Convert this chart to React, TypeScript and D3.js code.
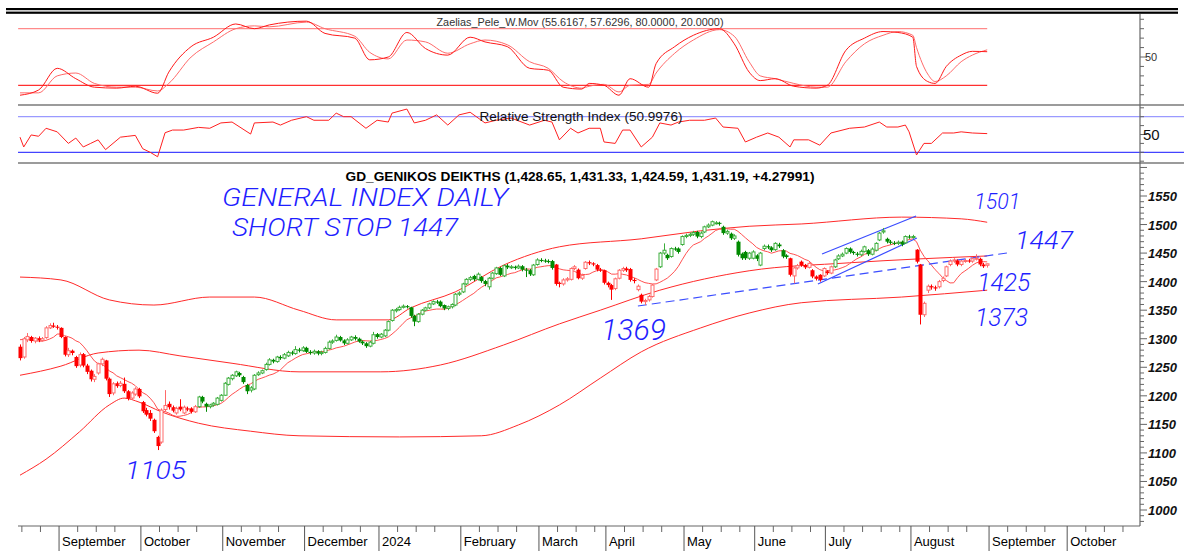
import React from "react";
import * as d3 from "d3";

// ---------- DATA ----------
const monthLabels = ["September","October","November","December","2024","February","March","April","May","June","July","August","September","October"];
const monthStarts = [11,33,55,77,97,119,140,158,179,198,217,240,261,282];
const priceTicks = [1000,1050,1100,1150,1200,1250,1300,1350,1400,1450,1500,1550];

const opens = [1286,1268,1298,1303,1296,1301,1297,1302,1319,1323,1321,1319,1303,1272,1279,1268,1254,1273,1253,1244,1229,1240,1256,1262,1230,1205,1222,1218,1221,1208,1196,1203,1212,1189,1175,1170,1158,1128,1119,1176,1186,1180,1170,1181,1170,1178,1178,1172,1181,1198,1186,1181,1184,1185,1192,1201,1220,1230,1235,1240,1233,1219,1210,1212,1237,1240,1246,1255,1263,1260,1268,1266,1270,1276,1274,1281,1279,1284,1277,1275,1278,1274,1276,1283,1294,1297,1303,1297,1292,1298,1303,1300,1295,1292,1287,1292,1308,1303,1305,1315,1332,1349,1351,1355,1357,1355,1340,1330,1343,1350,1354,1361,1365,1365,1359,1353,1356,1359,1378,1382,1396,1404,1410,1404,1408,1401,1391,1406,1414,1424,1410,1428,1425,1426,1424,1427,1421,1420,1412,1430,1438,1437,1436,1436,1430,1398,1396,1403,1404,1423,1421,1406,1423,1434,1432,1429,1421,1420,1398,1394,1388,1406,1420,1423,1422,1403,1386,1377,1365,1368,1374,1403,1426,1450,1447,1444,1458,1458,1465,1479,1481,1483,1487,1479,1487,1496,1499,1503,1503,1496,1485,1484,1476,1470,1449,1452,1441,1441,1446,1429,1458,1462,1460,1456,1465,1455,1446,1441,1410,1424,1435,1429,1425,1420,1409,1412,1410,1418,1415,1426,1440,1445,1450,1458,1452,1449,1447,1453,1455,1448,1455,1473,1487,1475,1470,1468,1467,1470,1468,1479,1478,1456,1430,1342,1385,1392,1390,1391,1402,1410,1430,1436,1437,1430,1436,1437,1436,1440,1440,1430,1428.65];
const highs = [1290,1303,1310,1305,1303,1304,1303,1322,1327,1328,1324,1320,1304,1284,1281,1270,1276,1275,1256,1246,1238,1258,1267,1263,1232,1224,1225,1226,1232,1210,1208,1215,1214,1191,1179,1175,1160,1130,1178,1210,1190,1183,1181,1194,1183,1181,1180,1184,1200,1200,1188,1186,1189,1198,1203,1224,1233,1238,1244,1242,1235,1221,1217,1238,1243,1246,1258,1266,1265,1270,1271,1275,1279,1279,1287,1284,1287,1286,1280,1281,1280,1279,1286,1297,1299,1307,1305,1299,1301,1305,1306,1302,1297,1294,1296,1312,1310,1310,1317,1332,1352,1354,1358,1360,1359,1356,1342,1345,1352,1356,1363,1367,1368,1367,1360,1358,1362,1380,1383,1398,1406,1410,1412,1416,1410,1403,1408,1417,1426,1426,1430,1431,1429,1428,1430,1429,1424,1422,1431,1441,1441,1440,1439,1438,1431,1400,1406,1408,1425,1429,1423,1414,1436,1437,1434,1431,1424,1421,1400,1396,1407,1422,1426,1426,1424,1406,1395,1379,1370,1377,1396,1424,1452,1467,1449,1460,1461,1460,1481,1484,1486,1489,1489,1488,1498,1502,1507,1506,1505,1498,1491,1486,1483,1472,1451,1454,1452,1455,1448,1452,1465,1465,1462,1469,1468,1457,1448,1442,1426,1431,1437,1431,1434,1422,1411,1413,1425,1420,1428,1440,1448,1451,1460,1460,1454,1452,1456,1463,1457,1460,1469,1487,1494,1477,1473,1471,1472,1472,1481,1482,1482,1457,1431,1365,1395,1395,1393,1403,1409,1428,1439,1441,1439,1438,1440,1440,1443,1448,1442,1433,1431.33];
const lows = [1262,1265,1294,1293,1292,1294,1295,1300,1317,1319,1316,1301,1269,1268,1271,1249,1250,1250,1238,1225,1224,1237,1252,1227,1198,1201,1214,1215,1205,1192,1193,1200,1196,1170,1164,1156,1135,1105,1116,1172,1176,1171,1167,1173,1168,1173,1169,1170,1179,1187,1172,1178,1181,1183,1190,1200,1218,1227,1233,1233,1221,1203,1206,1210,1235,1238,1244,1253,1257,1258,1263,1264,1268,1271,1272,1276,1277,1275,1272,1272,1271,1271,1274,1281,1291,1295,1295,1289,1290,1296,1297,1293,1289,1284,1285,1290,1300,1301,1303,1313,1330,1346,1349,1353,1353,1337,1322,1328,1341,1348,1352,1359,1361,1355,1350,1350,1353,1357,1375,1380,1394,1401,1401,1402,1398,1392,1386,1404,1412,1410,1408,1422,1422,1421,1422,1418,1408,1410,1410,1428,1434,1433,1432,1421,1393,1390,1393,1400,1402,1420,1404,1403,1421,1429,1427,1418,1417,1395,1390,1368,1385,1404,1417,1417,1400,1397,1383,1362,1359,1365,1372,1401,1424,1447,1438,1442,1454,1449,1463,1476,1478,1480,1476,1476,1485,1494,1497,1500,1498,1482,1482,1473,1473,1444,1438,1438,1438,1439,1436,1427,1455,1457,1452,1454,1459,1441,1440,1409,1397,1421,1426,1422,1423,1406,1402,1400,1408,1412,1413,1424,1438,1443,1448,1449,1447,1444,1445,1451,1445,1446,1453,1471,1484,1467,1465,1464,1464,1462,1466,1475,1475,1432,1325,1338,1380,1386,1384,1388,1399,1408,1427,1433,1427,1427,1433,1433,1433,1437,1427,1424,1424.59];
const closes = [1266,1300,1304,1296,1301,1297,1300,1319,1323,1321,1320,1303,1272,1279,1275,1252,1272,1253,1242,1229,1234,1256,1264,1230,1203,1221,1217,1222,1208,1195,1205,1212,1199,1173,1167,1160,1138,1112,1175,1183,1180,1174,1178,1176,1180,1176,1172,1181,1198,1190,1181,1184,1187,1196,1201,1222,1231,1236,1242,1236,1224,1208,1214,1236,1240,1244,1255,1263,1260,1268,1266,1272,1276,1274,1281,1279,1284,1277,1275,1278,1274,1276,1283,1294,1296,1303,1297,1292,1298,1303,1300,1295,1292,1287,1294,1307,1303,1308,1315,1330,1350,1351,1355,1357,1356,1340,1330,1343,1350,1354,1361,1365,1364,1357,1353,1356,1360,1378,1380,1396,1404,1407,1404,1413,1401,1396,1406,1415,1424,1412,1428,1425,1426,1424,1427,1421,1420,1413,1429,1438,1437,1436,1435,1424,1396,1396,1403,1405,1423,1426,1406,1411,1434,1432,1430,1421,1420,1398,1394,1386,1405,1420,1423,1420,1403,1401,1392,1365,1367,1374,1394,1422,1450,1455,1441,1458,1457,1452,1479,1481,1483,1486,1479,1485,1496,1499,1505,1503,1502,1485,1488,1476,1480,1447,1441,1441,1450,1452,1440,1450,1462,1460,1455,1467,1462,1444,1443,1412,1424,1428,1429,1425,1432,1409,1405,1403,1423,1415,1426,1438,1445,1448,1458,1452,1450,1447,1453,1461,1448,1457,1467,1485,1489,1470,1468,1467,1469,1465,1479,1478,1479,1435,1342,1362,1392,1390,1388,1400,1406,1426,1436,1438,1430,1436,1437,1436,1440,1441,1430,1426.91,1431.19];
const priorCloses = [1296,1302,1308,1311,1306,1301,1304,1299,1290];

const trendStarts = [0,48,144,172,207,219,241];
const trendUp = [false,true,false,true,false,true,false];

const upperDays = [0,11,24,36,51,63,75,85,99,105,117,130,145,167,183,196,210,237,253,260];
const upperVals = [1408,1403,1368,1359,1373,1373,1350,1333,1333,1354,1382,1429,1461,1475,1489,1497,1501,1513,1510,1504];
const midDays = [0,11,21,32,43,57,75,97,113,130,145,156,172,196,223,260];
const midVals = [1236,1252,1275,1280,1270,1257,1242,1242,1254,1289,1326,1350,1385,1419,1433,1445];
const lowDays = [0,7,16,24,28,32,38,48,62,75,102,124,134,145,156,167,183,196,210,237,260];
const lowVals = [1061,1089,1137,1184,1196,1189,1172,1152,1138,1130,1128,1130,1149,1184,1231,1277,1319,1345,1363,1373,1385];

const stochDays = [0,5,10,15,20,26,31,37,40,46,52,58,63,67,77,82,90,94,99,104,109,115,121,125,131,137,142,146,151,153,157,161,164,169,171,176,181,188,192,196,199,203,208,214,217,222,227,232,236,240,241,244,246,249,253,256,260];
const stochFast = [9.5,15,38,27,18,17,19,11.6,34,61,71,85,80,84,88,75,70,47,50,76,59,52,71,66,61,38,36,18,16,22,20,9.5,27,18,43,61,73,80,64,34,25,27,19,17,20,57,70,77,76,71,40,24,22,40,52,56,55.6];
const stochSlow = [12,12,30,33,22,18,18,14,22,50,66,80,83,82,87,80,72,55,48,68,66,54,64,68,63,45,38,24,17,19,21,13,20,21,33,54,68,79,72,45,30,27,22,18,18,45,64,73,77,73,60,32,24,30,45,52,57.6];

const rsiDays = [0,1,3,5,7,10,13,15,17,19,21,23,27,29,31,33,35,37,39,41,44,48,51,54,57,62,63,68,70,73,77,79,83,85,87,89,93,96,99,100,104,106,109,112,115,118,121,125,128,132,137,141,143,145,148,150,153,156,157,160,162,164,167,170,172,175,177,180,184,187,189,193,195,198,201,204,207,208,212,215,218,223,227,231,233,236,238,239,241,243,245,248,251,253,256,260];
const rsiVals = [47,36,49.5,48,57,53,40,46,36,40,44,33,47,48,49,34,30,25,52,55,55,58,57,63,64,50.5,63,64,60.6,66,70,66,66,74,70,70,57,66,64,74,78.6,63,66,72,60.6,72,75,63,66,68.5,60.6,66,64,44,57,51.7,57,57,41.6,40,55,55,36,47,63,60.6,64,66,66,68.5,58.4,57,41.6,47,51.7,47,36,44,44,38,51.7,57,58.4,64,58.4,58.4,60.6,53,27,40,40,51.7,51.7,53,51.7,51];

const trendDashed = [[166.1,1357.3],[265.3,1450.2]];
const channelUpper = [[215.6,1448.4],[240.9,1515]];
const channelLower = [[214.5,1395.9],[241.1,1476.4]];

const noteTexts = ["GENERAL INDEX DAILY","SHORT STOP 1447","1105","1369","1501","1447","1425","1373"];
const noteDays = [54.3,57.0,28.2,156.2,256.5,267.5,257.3,256.7];
const notePrices = [1532.5,1480,1054,1298,1527,1457,1384,1322];

// ---------- LAYOUT ----------
const W = 1184, H = 551;
const PL = 18, PR = 1140;
const x = d3.scaleLinear().domain([0, 301]).range([20, 20 + 3.72 * 301]);
const yP = d3.scaleLinear().domain([1000, 1550]).range([510, 196]);
const yS = d3.scaleLinear().domain([20, 80]).range([85.3, 28.7]);
const yR = d3.scaleLinear().domain([30, 70]).range([152.3, 116.7]);
const noteSizes = [26, 26, 26, 29, 22, 26, 25, 25];
const noteLens = [286, 226, 61, 65, 46, 58, 53, 53];

const FONT = "'Liberation Sans', Arial, sans-serif";
const NOTE_FONT = "Roboto, 'Open Sans', sans-serif";

function isUp(i: number) {
  let up = false;
  for (let k = 0; k < trendStarts.length; k++) if (i >= trendStarts[k]) up = trendUp[k];
  return up;
}

export default function App() {
  React.useEffect(() => { document.body.style.margin = "0"; }, []);
  const allC = [...priorCloses, ...closes];
  const P = priorCloses.length;
  const ma = closes.map((_, i) => d3.mean(allC.slice(i + P - 9, i + P + 1)) as number);

  const curve = (days: number[], vals: number[], ys: any, c: any) =>
    d3.line<number>().x((_, k) => x(days[k])).y((v) => ys(v)).curve(c)(vals) || "";

  const maPath = d3.line<number>().x((_, i) => x(i)).y((v) => yP(v))(ma) || "";
  const seg = (pts: number[][]) => d3.line<number[]>().x((d) => x(d[0])).y((d) => yP(d[1]))(pts) || "";

  const minor: number[] = [];
  const starts = [-9, ...monthStarts];
  starts.forEach((m, k) => {
    const next = k + 1 < starts.length ? starts[k + 1] : 301;
    for (let t = 5; t < 25; t += 5) if (m + t < next - 2 && m + t >= 0 && m + t < 301) minor.push(m + t);
  });

  const mainTicks = d3.range(980, 1601, 10);
  const stochTicks = d3.range(10, 91, 10);
  const rsiTicks = d3.range(20, 81, 10);

  return (
    <svg width={W} height={H} style={{ position: "absolute", left: 0, top: 0, background: "#fff" }} fontFamily={FONT}>
      <defs>
        <clipPath id="mainclip"><rect x={PL} y={164} width={PR - PL} height={361} /></clipPath>
        <clipPath id="topclip"><rect x={PL} y={14} width={PR - PL} height={90} /></clipPath>
        <clipPath id="rsiclip"><rect x={PL} y={106} width={PR - PL} height={56} /></clipPath>
      </defs>
      <rect x={0} y={0} width={W} height={H} fill="#fff" />
      <rect x={6} y={8} width={1172} height={2.2} fill="#000" />
      <rect x={6} y={11.6} width={1172} height={2.2} fill="#000" />

      {/* ---- stochastic panel ---- */}
      <text x={580} y={26} textAnchor="middle" fontSize={11} fill="#333" textLength={287} lengthAdjust="spacingAndGlyphs">Zaelias_Pele_W.Mov (55.6167, 57.6296, 80.0000, 20.0000)</text>
      <line x1={x(-0.5)} x2={x(260)} y1={yS(80)} y2={yS(80)} stroke="#ff8a8a" strokeWidth={1.2} />
      <line x1={x(-0.5)} x2={x(260)} y1={yS(20)} y2={yS(20)} stroke="#ff3030" strokeWidth={1.2} />
      <g clipPath="url(#topclip)" fill="none">
        <path d={curve(stochDays, stochSlow, yS, d3.curveMonotoneX)} stroke="#ff6a6a" strokeWidth={1} />
        <path d={curve(stochDays, stochFast, yS, d3.curveMonotoneX)} stroke="#ff1a1a" strokeWidth={1} />
      </g>
      <line x1={PL} x2={W} y1={105} y2={105} stroke="#7a7a7a" strokeWidth={1.3} />

      {/* ---- RSI panel ---- */}
      <line x1={PL} x2={W} y1={yR(70)} y2={yR(70)} stroke="#9a9aff" strokeWidth={1.2} />
      <line x1={PL} x2={W} y1={yR(30)} y2={yR(30)} stroke="#4444ff" strokeWidth={1.2} />
      <g clipPath="url(#rsiclip)">
        <path d={curve(rsiDays, rsiVals, yR, d3.curveLinear)} fill="none" stroke="#ff2020" strokeWidth={1} />
      </g>
      <text x={581} y={121} textAnchor="middle" fontSize={13} fill="#111" textLength={203} lengthAdjust="spacingAndGlyphs">Relative Strength Index (50.9976)</text>
      <line x1={PL} x2={W} y1={163} y2={163} stroke="#7a7a7a" strokeWidth={1.3} />

      {/* ---- main panel ---- */}
      <text x={580} y={181} textAnchor="middle" fontSize={13} fontWeight="bold" fill="#000" textLength={469} lengthAdjust="spacingAndGlyphs">GD_GENIKOS DEIKTHS (1,428.65, 1,431.33, 1,424.59, 1,431.19, +4.27991)</text>
      <g clipPath="url(#mainclip)" fill="none">
        <path d={curve(upperDays, upperVals, yP, d3.curveMonotoneX)} stroke="#ff2a2a" strokeWidth={1} />
        <path d={curve(midDays, midVals, yP, d3.curveMonotoneX)} stroke="#ff2a2a" strokeWidth={1} />
        <path d={curve(lowDays, lowVals, yP, d3.curveMonotoneX)} stroke="#ff2a2a" strokeWidth={1} />
        <path d={maPath} stroke="#ff5050" strokeWidth={1} />
        <path d={seg(trendDashed)} stroke="#3a4cff" strokeWidth={1.2} strokeDasharray="9,5" />
        <path d={seg(channelUpper)} stroke="#3a4cff" strokeWidth={1.2} />
        <path d={seg(channelLower)} stroke="#3a4cff" strokeWidth={1.2} />
      </g>
      <g clipPath="url(#mainclip)">
        {closes.map((c, i) => {
          const o = opens[i], h = highs[i], l = lows[i];
          const up = isUp(i);
          const hollow = c >= o;
          const col = up ? (hollow ? "#3cae3c" : "#008a00") : (hollow ? "#ff6a6a" : "#ff0000");
          const cx = Math.round(x(i)) + 0.5;
          const top = yP(Math.max(o, c)), bot = yP(Math.min(o, c));
          const bh = Math.max(1, bot - top);
          return (
            <g key={i}>
              <line x1={cx} x2={cx} y1={yP(h)} y2={yP(l)} stroke={col} strokeWidth={1} />
              {hollow ? (
                <rect x={cx - 1.5} y={top} width={3} height={bh} fill="#fff" stroke={col} strokeWidth={1} />
              ) : (
                <rect x={cx - 2} y={top} width={4} height={bh} fill={col} />
              )}
            </g>
          );
        })}
      </g>
      {noteTexts.map((t, k) => (
        <text key={k} x={x(noteDays[k])} y={yP(notePrices[k])} fontSize={noteSizes[k]} fill="#1f1fff"
          fontStyle="italic" fontWeight={300} fontFamily={NOTE_FONT}
          textLength={noteLens[k]} lengthAdjust="spacingAndGlyphs">{t}</text>
      ))}

      {/* ---- right axis ---- */}
      <line x1={PR} x2={PR} y1={14} y2={526} stroke="#666" strokeWidth={1.2} />
      {stochTicks.map((v) => (
        <line key={"s" + v} x1={PR} x2={PR + (v === 50 ? 7 : 4)} y1={yS(v)} y2={yS(v)} stroke="#666" />
      ))}
      <text x={1145} y={yS(50) + 4} fontSize={11} fill="#333">50</text>
      {rsiTicks.map((v) => (
        <line key={"r" + v} x1={PR} x2={PR + (v === 50 ? 7 : 4)} y1={yR(v)} y2={yR(v)} stroke="#666" />
      ))}
      <text x={1143} y={yR(50) + 5} fontSize={15} fill="#111">50</text>
      {mainTicks.map((v) => (
        <line key={"m" + v} x1={PR} x2={PR + (v % 50 === 0 ? 7 : 4)} y1={yP(v)} y2={yP(v)} stroke="#666" />
      ))}
      {priceTicks.map((v) => (
        <text key={"l" + v} x={1148} y={yP(v) + 5} fontSize={13} fontWeight="bold" fontStyle="italic" fill="#111">{v}</text>
      ))}

      {/* ---- bottom axis ---- */}
      <line x1={PL} x2={PR} y1={526} y2={526} stroke="#666" strokeWidth={1.2} />
      {minor.map((m) => (
        <line key={"n" + m} x1={x(m - 0.5)} x2={x(m - 0.5)} y1={526} y2={532} stroke="#666" />
      ))}
      {monthStarts.map((m, k) => (
        <g key={"t" + k}>
          <line x1={x(m - 0.5)} x2={x(m - 0.5)} y1={526} y2={551} stroke="#555" />
          <text x={x(m - 0.5) + 3} y={546} fontSize={13} fill="#000">{monthLabels[k]}</text>
        </g>
      ))}
    </svg>
  );
}
